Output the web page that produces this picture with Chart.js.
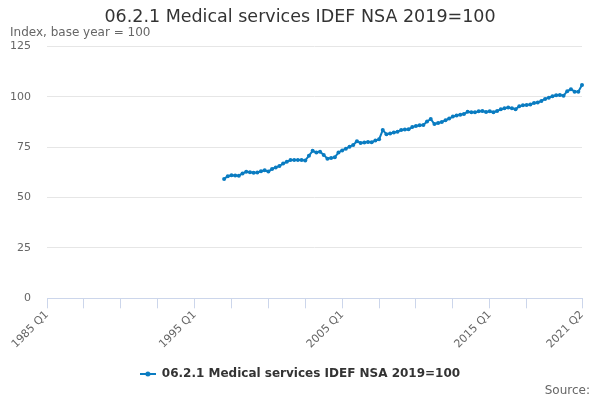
<!DOCTYPE html>
<html>
<head>
<meta charset="utf-8">
<script src="https://cdn.jsdelivr.net/npm/chart.js@4"></script>
<style>
  body { margin: 0; background: #fff; }
  #wrap { width: 600px; height: 400px; }
</style>
</head>
<body>
<div id="wrap"><canvas id="grafico" width="600" height="400"></canvas></div>
<script>
const firstYear = 1985;
const lastYear = 2021;
const lastQuarter = 2;
const startQuarter = '1997 Q1';
const seriesName = '06.2.1 Medical services IDEF NSA 2019=100';

// quarterly values, 1997 Q1 .. 2021 Q2
const indexValues = [
  59.2, 60.6, 61.1, 61.0, 60.9, 62.0, 62.8, 62.6, 62.3, 62.5,
  63.1, 63.6, 62.9, 64.2, 65.0, 65.7, 66.9, 67.8, 68.6, 68.7,
  68.7, 68.7, 68.4, 70.8, 73.2, 72.4, 72.8, 71.2, 69.3, 69.6,
  70.0, 72.4, 73.4, 74.3, 75.3, 76.1, 78.0, 77.1, 77.4, 77.6,
  77.5, 78.3, 78.9, 83.5, 81.5, 81.8, 82.3, 82.7, 83.6, 83.8,
  83.9, 85.0, 85.5, 85.9, 86.0, 87.8, 89.0, 86.5, 87.0, 87.5,
  88.4, 89.2, 90.2, 90.8, 91.1, 91.5, 92.6, 92.4, 92.4, 92.8,
  93.0, 92.5, 92.8, 92.4, 93.0, 93.8, 94.4, 94.7, 94.4, 93.9,
  95.3, 95.8, 96.0, 96.2, 97.0, 97.2, 98.0, 99.0, 99.6, 100.3,
  100.8, 100.9, 100.6, 102.8, 103.8, 102.6, 102.5, 105.9
];

const yTicks = [0, 25, 50, 75, 100, 125];

// all quarters on the axis
const quarterLabels = [];
for (let y = firstYear; y <= lastYear; y++) {
  for (let q = 1; q <= 4; q++) {
    if (y === lastYear && q > lastQuarter) break;
    quarterLabels.push(y + ' Q' + q);
  }
}

const startIdx = quarterLabels.indexOf(startQuarter);
const serie = quarterLabels.map((l, i) => (i < startIdx ? null : indexValues[i - startIdx]));
const lastIdx = quarterLabels.length - 1;

const azul = '#0a7cc1';

// little legend symbol: line with a dot
const simbolo = document.createElement('canvas');
simbolo.width = 16;
simbolo.height = 8;
const sctx = simbolo.getContext('2d');
sctx.strokeStyle = azul;
sctx.lineWidth = 2;
sctx.beginPath();
sctx.moveTo(0, 4);
sctx.lineTo(16, 4);
sctx.stroke();
sctx.fillStyle = azul;
sctx.beginPath();
sctx.arc(8, 4, 2.5, 0, Math.PI * 2);
sctx.fill();

const fonte = {
  id: 'fonte',
  afterDraw(chart) {
    const ctx = chart.ctx;
    ctx.save();
    ctx.font = '12px "DejaVu Sans", sans-serif';
    ctx.fillStyle = '#666';
    ctx.textAlign = 'right';
    ctx.textBaseline = 'middle';
    ctx.fillText('Source:', 590, 391);
    ctx.restore();
  }
};

new Chart(document.getElementById('grafico'), {
  type: 'line',
  data: {
    labels: quarterLabels,
    datasets: [{
      label: seriesName,
      data: serie,
      borderColor: azul,
      backgroundColor: azul,
      borderWidth: 2,
      pointRadius: 2,
      pointHoverRadius: 3,
      pointBorderWidth: 0,
      tension: 0,
      spanGaps: false
    }]
  },
  options: {
    responsive: false,
    animation: false,
    layout: { padding: { left: 10, right: 10, top: 9, bottom: 10 } },
    plugins: {
      title: {
        display: true,
        text: seriesName,
        color: '#333',
        font: { family: '"DejaVu Sans", sans-serif', size: 17.5, weight: 'normal', lineHeight: 1 },
        padding: { top: 0, bottom: 0 }
      },
      subtitle: {
        display: true,
        text: 'Index, base year = 100',
        align: 'start',
        color: '#666',
        font: { family: '"DejaVu Sans", sans-serif', size: 12, lineHeight: 1 },
        padding: { top: 0, bottom: 8 }
      },
      legend: {
        position: 'bottom',
        labels: {
          color: '#333',
          font: { family: '"DejaVu Sans", sans-serif', size: 12, weight: 'bold' },
          usePointStyle: true,
          pointStyle: simbolo,
          pointStyleWidth: 16,
          padding: 10,
          generateLabels: (chart) => [{
            text: seriesName,
            pointStyle: simbolo,
            fillStyle: azul,
            strokeStyle: azul,
            lineWidth: 0,
            fontColor: '#333',
            datasetIndex: 0
          }]
        }
      },
      tooltip: { enabled: false }
    },
    scales: {
      x: {
        afterFit: (scale) => {
          // let the rotated first label hang over the y axis area
          scale.paddingLeft = 0;
          scale.paddingRight = 18;
          scale.height += 7;
        },
        grid: {
          drawOnChartArea: false,
          drawTicks: true,
          tickLength: 10,
          color: (c) => ((c.index % 10 === 0 && c.index <= 130) || c.index === lastIdx ? '#ccd6eb' : 'transparent')
        },
        border: { color: '#ccd6eb', width: 1 },
        ticks: {
          autoSkip: false,
          maxRotation: 45,
          minRotation: 45,
          color: '#666',
          padding: 0,
          font: { family: '"DejaVu Sans", sans-serif', size: 11 },
          callback: function (v, i) {
            return (i % 40 === 0 || i === lastIdx) ? quarterLabels[i] : '';
          }
        }
      },
      y: {
        min: 0,
        max: 125,
        afterBuildTicks: (axis) => { axis.ticks = yTicks.map(v => ({ value: v })); },
        afterFit: (scale) => { scale.width = 37; },
        grid: { color: '#e6e6e6', drawTicks: false },
        border: { display: false },
        ticks: {
          color: '#666',
          padding: 16,
          font: { family: '"DejaVu Sans", sans-serif', size: 11 }
        }
      }
    }
  },
  plugins: [fonte]
});
</script>
</body>
</html>
